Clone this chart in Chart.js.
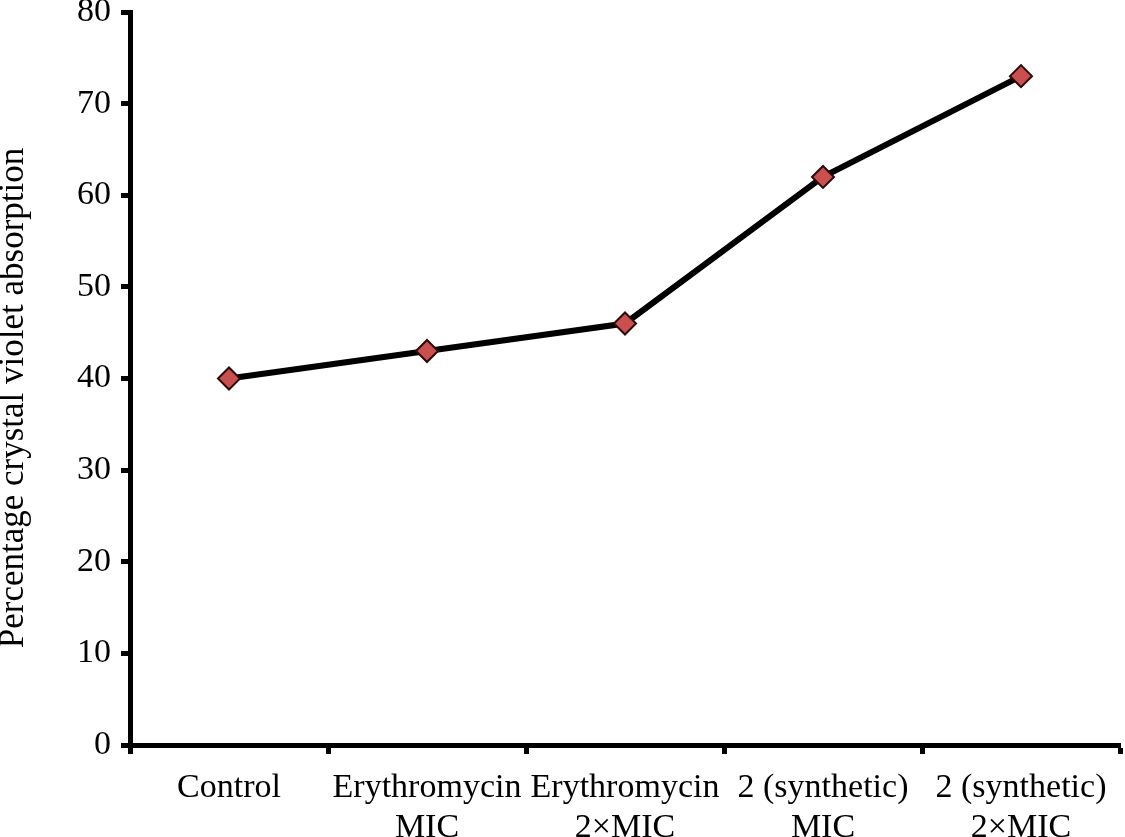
<!DOCTYPE html>
<html><head><meta charset="utf-8">
<script src="https://cdn.jsdelivr.net/npm/chart.js@4"></script>
<style>html,body{margin:0;padding:0;background:#fff}#wrap{width:1125px;height:837px;position:relative}</style>
</head><body><div id="wrap"><canvas id="c" width="1125" height="837"></canvas></div>
<script>
const categories = [["Control"], ["Erythromycin","MIC"], ["Erythromycin","2×MIC"], ["2 (synthetic)","MIC"], ["2 (synthetic)","2×MIC"]];
const values = [40, 43, 46, 62, 73];
const yTitle = "Percentage crystal violet absorption";
const yMin = 0, yMax = 80, yStep = 10;

const zeroPad = s => { s.paddingTop = 0; s.paddingBottom = 0; s.paddingLeft = 0; s.paddingRight = 0; };

const yTitlePlugin = {
  id: 'yTitle',
  afterDraw(chart) {
    const ctx = chart.ctx;
    ctx.save();
    ctx.translate(14, 398);
    ctx.rotate(-Math.PI / 2);
    ctx.font = '35px "Liberation Serif"';
    ctx.fillStyle = '#000';
    ctx.textAlign = 'center';
    ctx.textBaseline = 'middle';
    ctx.fillText(yTitle, 0, 0);
    ctx.restore();
  }
};

new Chart(document.getElementById('c'), {
  type: 'line',
  data: { labels: categories, datasets: [{
    data: values, borderColor: '#000', borderWidth: 6, tension: 0, clip: false,
    pointStyle: 'rectRot', pointRadius: 11, pointHoverRadius: 11,
    pointBackgroundColor: '#C9504F', pointBorderColor: '#2a0a0a', pointBorderWidth: 2
  }]},
  plugins: [yTitlePlugin],
  options: {
    responsive: false, animation: false, devicePixelRatio: 1,
    layout: { autoPadding: false, padding: { top: 12, right: 5, left: 0, bottom: 0 } },
    plugins: { legend: { display: false }, tooltip: { enabled: false } },
    scales: {
      x: {
        offset: true,
        grid: { offset: true, drawOnChartArea: false, drawTicks: true, tickLength: 9, tickWidth: 5, tickColor: '#000' },
        border: { color: '#000', width: 5 },
        ticks: { color: '#000', font: { family: 'Liberation Serif', size: 34, lineHeight: 1.18 }, padding: 14, maxRotation: 0, autoSkip: false },
        afterFit: s => { s.height = 92; zeroPad(s); }
      },
      y: {
        min: yMin, max: yMax,
        grid: { drawOnChartArea: false, tickLength: 9, tickWidth: 5, tickColor: '#000' },
        border: { color: '#000', width: 5 },
        ticks: { stepSize: yStep, color: '#000', font: { family: 'Liberation Serif', size: 34 }, padding: 10 },
        title: { display: false },
        afterFit: s => { s.width = 130; zeroPad(s); }
      }
    }
  }
});
</script></body></html>
